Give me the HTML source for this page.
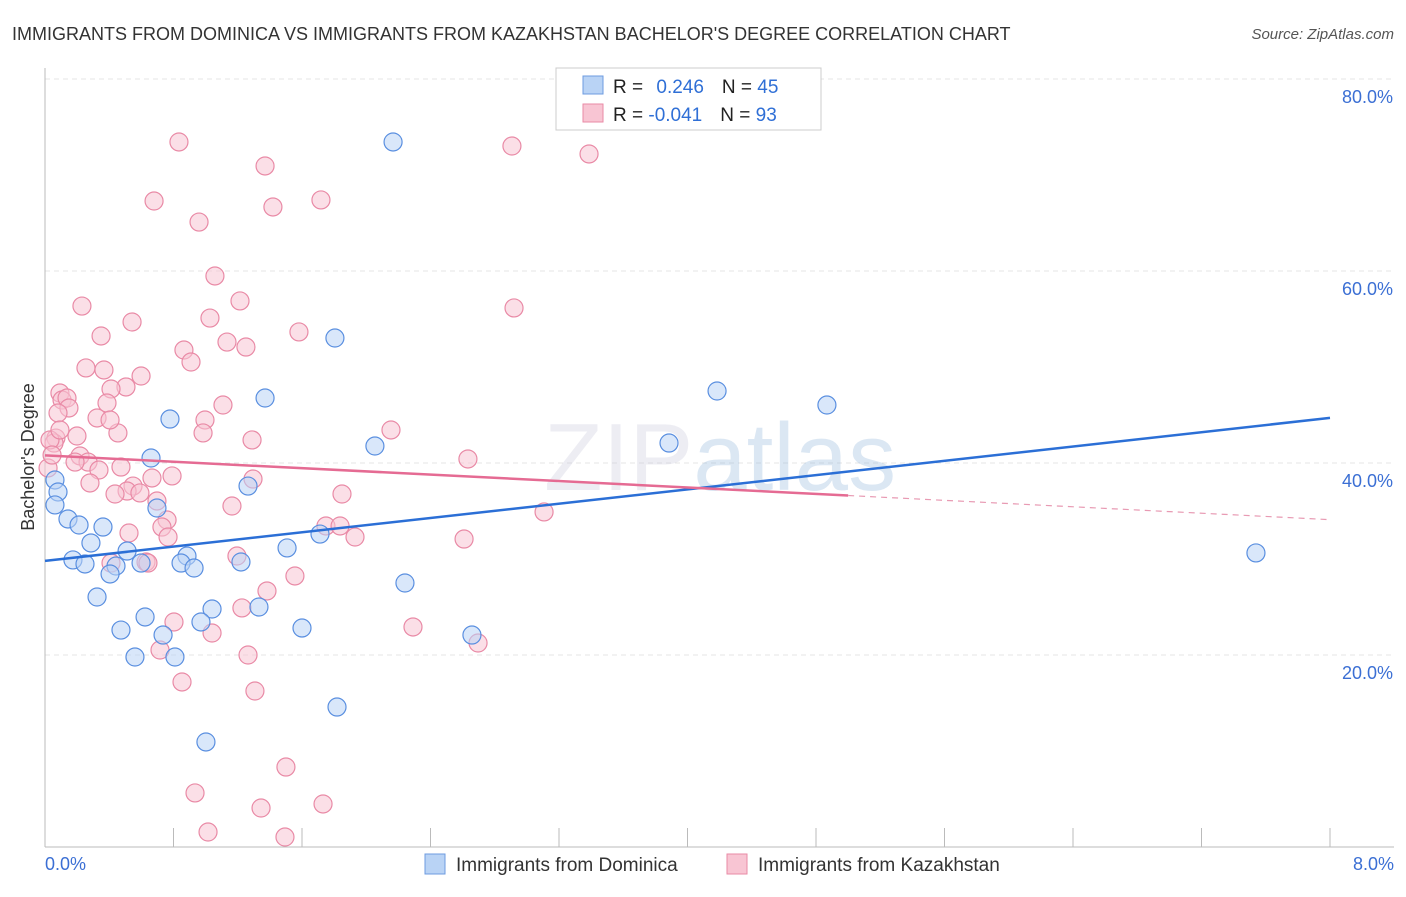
<!DOCTYPE html>
<html><head><meta charset="utf-8"><style>
body{margin:0;background:#fff;font-family:"Liberation Sans",sans-serif}
svg text{font-family:"Liberation Sans",sans-serif}
</style></head><body>
<svg id="c" width="1406" height="892">
<text x="12" y="40" font-size="18" fill="#333">IMMIGRANTS FROM DOMINICA VS IMMIGRANTS FROM KAZAKHSTAN BACHELOR'S DEGREE CORRELATION CHART</text>
<text x="1394" y="39" font-size="15" fill="#555" text-anchor="end" font-style="italic">Source: ZipAtlas.com</text>
<g id="grid"></g>
<text x="720" y="490" font-size="96" fill="#ccd" opacity="0.35" text-anchor="middle" font-family="Liberation Serif">ZIP<tspan fill="#9bd" font-family="Liberation Sans">atlas</tspan></text>
<g id="pts"></g>
<g id="lines"></g>
<text transform="translate(34,457) rotate(-90)" font-size="18" fill="#333" text-anchor="middle">Bachelor's Degree</text>
<text x="45" y="870" font-size="18" fill="#3b6fd4">0.0%</text>
<text x="1394" y="870" font-size="18" fill="#3b6fd4" text-anchor="end">8.0%</text>
<g>
<rect x="556" y="68" width="265" height="62" fill="#fff" stroke="#ccc"/>
<rect x="583" y="76" width="20" height="18" fill="#b9d3f5" stroke="#6d9be0"/>
<rect x="583" y="104" width="20" height="18" fill="#f8c5d3" stroke="#e98aa6"/>
<text x="613" y="93" font-size="19" fill="#222">R = <tspan fill="#2f6fd6" dx="8">0.246</tspan><tspan dx="18">N = </tspan><tspan fill="#2f6fd6">45</tspan></text>
<text x="613" y="121" font-size="19" fill="#222">R = <tspan fill="#2f6fd6">-0.041</tspan><tspan dx="18">N = </tspan><tspan fill="#2f6fd6">93</tspan></text>
</g>
<g>
<rect x="425" y="854" width="20" height="20" fill="#b9d3f5" stroke="#6d9be0"/>
<text x="456" y="871" font-size="19" fill="#333">Immigrants from Dominica</text>
<rect x="727" y="854" width="20" height="20" fill="#f8c5d3" stroke="#e98aa6"/>
<text x="758" y="871" font-size="19" fill="#333">Immigrants from Kazakhstan</text>
</g>
</svg>
<script>
const yTicks=[20,40,60,80];
const yTickLabels=["20.0%","40.0%","60.0%","80.0%"];
const xTicks=[0,0.8,1.6,2.4,3.2,4,4.8,5.6,6.4,7.2,8];
const bluePx=[[393,142],[335,338],[717,391],[827,405],[265,398],[170,419],[375,446],[669,443],[151,458],[248,486],[55,480],[58,492],[55,505],[68,519],[79,525],[103,527],[157,508],[91,543],[127,551],[187,556],[287,548],[320,534],[73,560],[85,564],[116,566],[141,563],[181,563],[194,568],[241,562],[110,574],[405,583],[97,597],[212,609],[259,607],[145,617],[201,622],[121,630],[163,635],[302,628],[472,635],[135,657],[175,657],[337,707],[206,742],[1256,553]];
const pinkPx=[[179,142],[512,146],[589,154],[265,166],[154,201],[321,200],[273,207],[199,222],[215,276],[82,306],[240,301],[514,308],[210,318],[132,322],[101,336],[299,332],[227,342],[184,350],[246,347],[191,362],[86,368],[104,370],[141,376],[126,387],[111,389],[60,393],[62,400],[67,398],[107,403],[69,408],[223,405],[97,418],[58,413],[205,420],[203,433],[118,433],[77,436],[56,438],[252,440],[391,430],[54,443],[468,459],[80,456],[88,462],[75,462],[99,470],[121,467],[172,476],[152,478],[90,483],[253,479],[133,486],[127,491],[115,494],[157,501],[342,494],[232,506],[167,520],[162,527],[168,537],[326,526],[340,526],[355,537],[129,533],[544,512],[464,539],[237,556],[111,563],[146,562],[148,563],[295,576],[267,591],[242,608],[174,622],[212,633],[413,627],[478,643],[160,650],[248,655],[182,682],[255,691],[286,767],[195,793],[323,804],[261,808],[208,832],[285,837],[48,468],[50,440],[52,455],[140,493],[110,420],[60,430]];
// data values (x in %, y in %) derived from reading the picture
const blueX=bluePx.map(p=>+((p[0]-45)/160.625).toFixed(3));
const blueY=bluePx.map(p=>+((847-p[1])/9.6).toFixed(2));
const pinkX=pinkPx.map(p=>+((p[0]-45)/160.625).toFixed(3));
const pinkY=pinkPx.map(p=>+((847-p[1])/9.6).toFixed(2));
const blueTrend=[29.8,44.7];
const pinkTrend=[40.8,34.1];
const pinkSolidEnd=5.0;
const X=v=>45+v/8*1285, Y=v=>847-v*9.6;
const NS="http://www.w3.org/2000/svg";
function mk(t,a,p){const e=document.createElementNS(NS,t);for(const k in a)e.setAttribute(k,a[k]);p.appendChild(e);return e;}
const g=document.getElementById('grid');
yTicks.forEach((t,i)=>{const l=mk('line',{x1:45,x2:1394,y1:Y(t),y2:Y(t),stroke:'#e4e4e4','stroke-dasharray':'5,4'},g);


const tx=mk('text',{x:1393,y:Y(t)+24,'font-size':18,fill:'#3b6fd4','text-anchor':'end'},g);tx.textContent=yTickLabels[i];

});
mk('line',{x1:45,x2:45,y1:68,y2:847,stroke:'#bbb'},g);
mk('line',{x1:45,x2:1394,y1:847,y2:847,stroke:'#bbb'},g);
xTicks.forEach(t=>{const l=mk('line',{x1:X(t),x2:X(t),y1:828,y2:847,stroke:'#bbb'},g);

});
const P=document.getElementById('pts');
function dots(xs,ys,fill,stroke,name){xs.forEach((x,i)=>{const c=mk('circle',{cx:X(x),cy:Y(ys[i]),r:9,fill:fill,'fill-opacity':0.55,stroke:stroke,'stroke-width':1.2},P);

});}
dots(pinkX,pinkY,'#f8c5d3','#e98aa6','point-kazakhstan');
dots(blueX,blueY,'#b9d3f5','#5a8fe0','point-dominica');
const L=document.getElementById('lines');
const bl=mk('line',{x1:X(0),y1:Y(blueTrend[0]),x2:X(8),y2:Y(blueTrend[1]),stroke:'#2b6fd6','stroke-width':2.5},L);


const pm=pinkTrend[0]+(pinkTrend[1]-pinkTrend[0])*pinkSolidEnd/8;
const pl=mk('line',{x1:X(0),y1:Y(pinkTrend[0]),x2:X(pinkSolidEnd),y2:Y(pm),stroke:'#e56b93','stroke-width':2.5},L);


const pd=mk('line',{x1:X(pinkSolidEnd),y1:Y(pm),x2:X(8),y2:Y(pinkTrend[1]),stroke:'#e89ab3','stroke-width':1.2,'stroke-dasharray':'6,5'},L);


</script>
</body></html>
